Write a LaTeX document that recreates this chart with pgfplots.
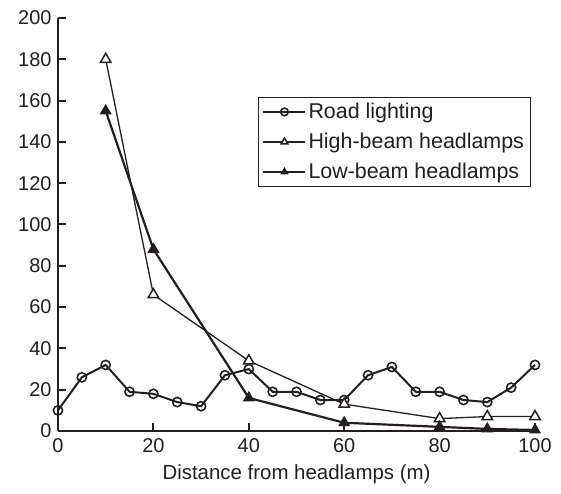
\documentclass[border=0pt]{standalone}
\usepackage{pgfplots}
\pgfplotsset{compat=1.18}
\usepackage{fontspec}
\setmainfont{Liberation Sans}
\definecolor{ink}{HTML}{231F20}

\begin{document}
\begin{tikzpicture}
\begin{axis}[
  width=477bp, height=413bp, scale only axis,
  xmin=0, xmax=100, ymin=0, ymax=200,
  axis lines=left, axis line style={-, line width=2.2bp, color=ink},
  clip=false,
  xtick={0,20,40,60,80,100}, ytick={0,20,...,200},
  tick align=inside,
  major tick length=8bp,
  tick style={line width=2bp, color=ink},
  /pgf/number format/assume math mode=true,
  tick label style={font=\fontsize{20}{24}\selectfont, color=ink},
  xticklabel style={yshift=-4bp},
  yticklabel style={xshift=-3bp},
  xlabel={Distance from headlamps (m)},
  xlabel style={font=\fontsize{20.5}{24}\selectfont, color=ink, yshift=-5bp},
  legend style={at={(0.419,0.809)}, anchor=north west, draw=ink, line width=1bp,
    font=\fontsize{21.5}{25}\selectfont, text=ink, row sep=9bp,
    inner xsep=4bp, inner ysep=4bp},
  legend cell align=left,
  legend image code/.code={\draw[#1, mark size=3.8bp] (0cm,0cm) -- (0.74cm,0cm) plot coordinates {(0.74cm,0cm)} -- (1.48cm,0cm);},
]
\addplot[color=ink, line width=2bp, mark=o, mark size=4.6bp,
  mark options={fill=white, line width=1.6bp, solid}] coordinates {
 (0,10) (5,26) (10,32) (15,19) (20,18) (25,14) (30,12) (35,27) (40,30)
 (45,19) (50,19) (55,15) (60,15) (65,27) (70,31) (75,19) (80,19)
 (85,15) (90,14) (95,21) (100,32)};
\addlegendentry{Road lighting}
\addplot[color=ink, line width=1.3bp, mark=triangle*, mark size=6bp,
  mark options={fill=white, line width=1.5bp, solid}] coordinates {
 (10,180) (20,66) (40,34) (60,13) (80,6) (90,7) (100,7)};
\addlegendentry{High-beam headlamps}
\addplot[color=ink, line width=2.2bp, mark=triangle*, mark size=6bp,
  mark options={fill=ink, line width=1bp, solid}] coordinates {
 (10,155) (20,88) (40,16) (60,4) (80,2) (90,1) (100,0.5)};
\addlegendentry{Low-beam headlamps}
\end{axis}
\path ([shift={(-58bp,-63bp)}]current axis.south west) rectangle ([shift={(26bp,18bp)}]current axis.north east);
\end{tikzpicture}
\end{document}
